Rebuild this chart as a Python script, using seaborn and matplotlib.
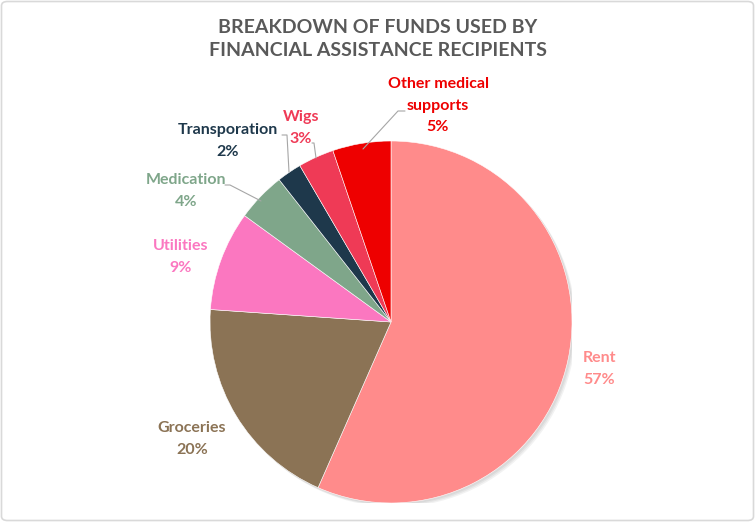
import numpy as np
import matplotlib
matplotlib.use("Agg")
import matplotlib.pyplot as plt
import seaborn as sns
from matplotlib.patches import Circle, FancyBboxPatch

# data (clockwise from 12 o'clock)
categories = ["Rent", "Groceries", "Utilities", "Medication",
              "Transporation", "Wigs", "Other medical\nsupports"]
shares = [56.6, 19.5, 8.9, 4.4, 2.2, 3.2, 5.2]
colors = ["#FF8B8B", "#8B7355", "#FB77C0", "#7FA68A",
          "#1E384B", "#EF3A56", "#EE0000"]

title = "BREAKDOWN OF FUNDS USED BY\nFINANCIAL ASSISTANCE RECIPIENTS"

sns.set_theme(style="white")
plt.rcParams["font.family"] = ["Lato", "DejaVu Sans"]

fig = plt.figure(figsize=(7.55, 5.22), dpi=100)
W, H = 755, 522

# pie centre (391, 322) px, radius 181 px
cx, cy, r = 391, 322, 181
ax = fig.add_axes([(cx - r) / W, (H - cy - r) / H, 2 * r / W, 2 * r / H])

# soft shadow
for k in range(3):
    ax.add_patch(Circle((0.010 + 0.006 * k, -0.010 - 0.006 * k), 1.0,
                        color="black", alpha=0.05, lw=0, zorder=0))

wedges, _ = ax.pie(shares, colors=colors, startangle=90, counterclock=False,
                   radius=1.0, wedgeprops=dict(linewidth=0.4, edgecolor="white"))
for w in wedges:
    w.set_zorder(2)
ax.set_xlim(-1, 1)
ax.set_ylim(-1, 1)
ax.set_axis_off()


def px(x, y):
    # pixel coords (top-left origin) -> axes data coords
    return ((x - cx) / r, (cy - y) / r)


# label placement in pixels: (x, y of first line, ha)
label_pos = {
    "Rent": (583, 358, "left"),
    "Groceries": (192, 428, "center"),
    "Utilities": (181, 246, "center"),
    "Medication": (186, 180, "center"),
    "Transporation": (228, 130, "center"),
    "Wigs": (301, 117, "center"),
    "Other medical\nsupports": (438, 84, "center"),
}
leaders = {
    "Medication": [(261, 201), (230, 185), (225, 185)],
    "Transporation": [(289, 172), (287, 135), (282, 135)],
    "Wigs": [(316, 158), (314, 143), (312, 143)],
    "Other medical\nsupports": [(363, 149), (398, 111), (405, 111)],
}

lh = 21.5
for cat, val, col in zip(categories, shares, colors):
    x, y, ha = label_pos[cat]
    lines = cat.split("\n") + [f"{val:.0f}%"]
    for i, line in enumerate(lines):
        tx, ty = px(x, y + i * lh)
        ax.text(tx, ty, line, ha=ha, va="center", color=col,
                fontsize=11.5, fontweight="bold", clip_on=False)
    if cat in leaders:
        pts = np.array([px(*p) for p in leaders[cat]])
        ax.plot(pts[:, 0], pts[:, 1], color="#A6A6A6", lw=0.8, clip_on=False)

fig.text(378 / W, 1 - 39 / H, title, ha="center", va="center",
         fontsize=14, fontweight="bold", color="#595959", linespacing=1.45)

border = FancyBboxPatch((1.5 / W, 1.5 / H), 1 - 3 / W, 1 - 3 / H,
                        boxstyle="round,pad=0,rounding_size=0.008",
                        transform=fig.transFigure, fill=False,
                        edgecolor="#D9D9D9", lw=1.2)
fig.patches.append(border)

fig.savefig("out.png", dpi=100)
